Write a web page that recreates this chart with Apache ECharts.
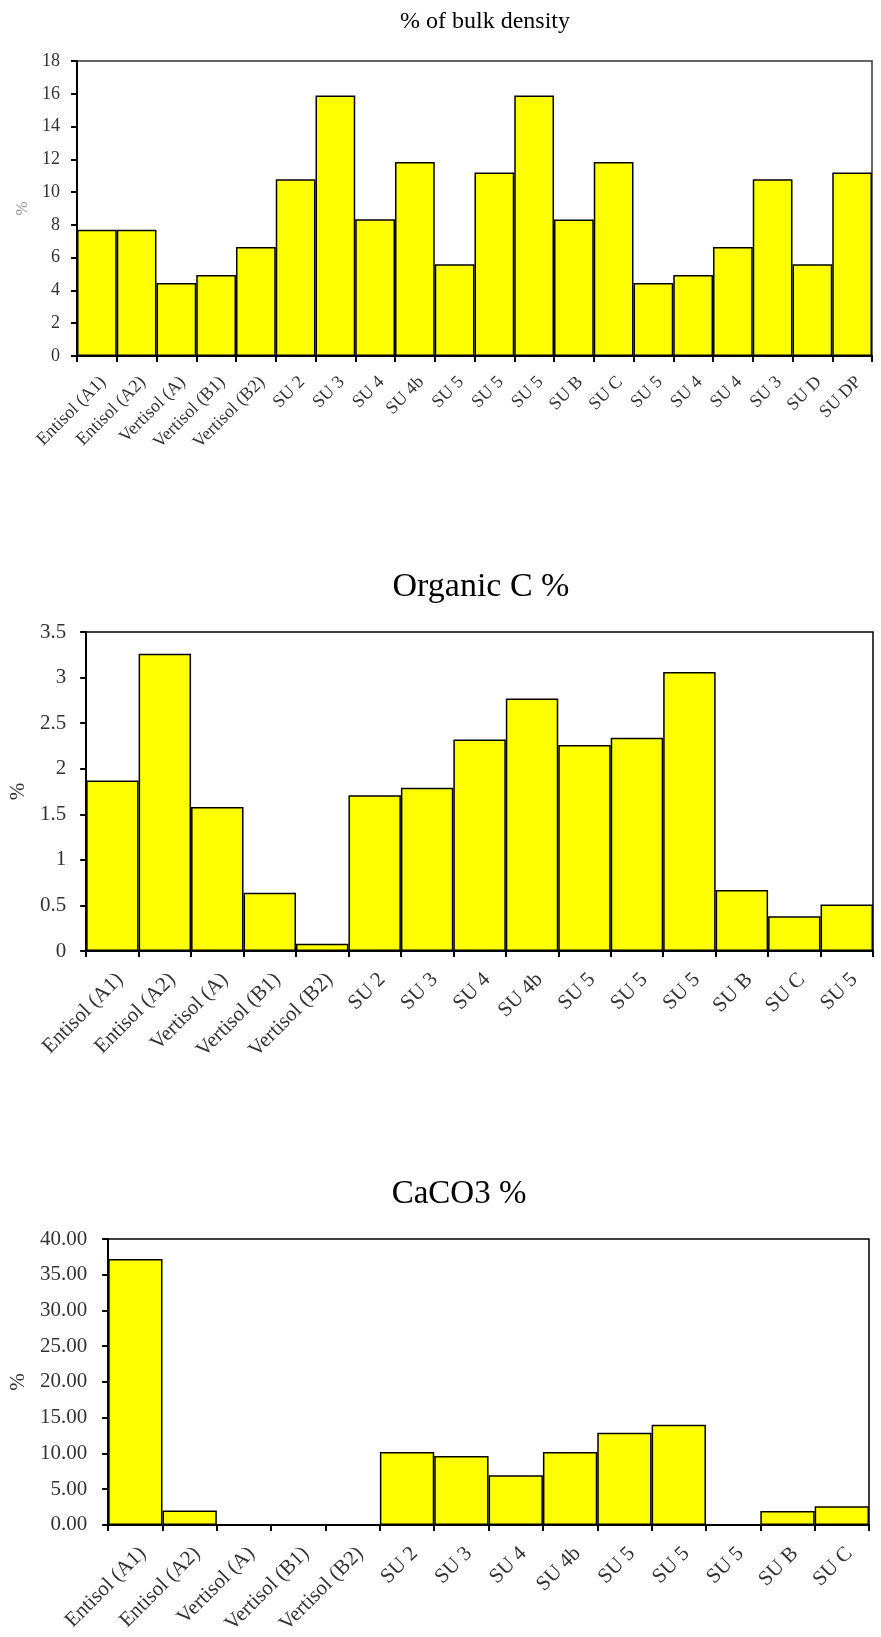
<!DOCTYPE html>
<html>
<head>
<meta charset="utf-8">
<script src="https://cdn.jsdelivr.net/npm/echarts@6/dist/echarts.min.js"></script>
<style>
html,body{margin:0;padding:0;background:#fff;}
#c{width:881px;height:1637px;}
</style>
</head>
<body>
<div id="c"></div>
<script>
// ---- data ----
const bulkTitle = '% of bulk density';
const bulkCategories = ['Entisol (A1)','Entisol (A2)','Vertisol (A)','Vertisol (B1)','Vertisol (B2)','SU 2','SU 3','SU 4','SU 4b','SU 5','SU 5','SU 5','SU B','SU C','SU 5','SU 4','SU 4','SU 3','SU D','SU DP'];
const bulkValues = [7.7,7.7,4.45,4.95,6.65,10.78,15.9,8.34,11.84,5.6,11.2,15.9,8.33,11.84,4.45,4.94,6.65,10.78,5.6,11.2];

const organicTitle = 'Organic C %';
const organicCategories = ['Entisol (A1)','Entisol (A2)','Vertisol (A)','Vertisol (B1)','Vertisol (B2)','SU 2','SU 3','SU 4','SU 4b','SU 5','SU 5','SU 5','SU B','SU C','SU 5'];
const organicValues = [1.87,3.26,1.58,0.64,0.08,1.71,1.79,2.32,2.77,2.26,2.34,3.06,0.67,0.38,0.51];

const caco3Title = 'CaCO3 %';
const caco3Categories = ['Entisol (A1)','Entisol (A2)','Vertisol (A)','Vertisol (B1)','Vertisol (B2)','SU 2','SU 3','SU 4','SU 4b','SU 5','SU 5','SU 5','SU B','SU C'];
const caco3Values = [37.2,2.0,0,0,0,10.2,9.64,6.94,10.2,12.9,14.0,0,1.96,2.6];

const yName = '%';

// ---- chart ----
const FONT = '"Liberation Serif", "Times New Roman", serif';
const chart = echarts.init(document.getElementById('c'), null, {renderer:'canvas'});

function xAxisCfg(idx, cats, fs, margin){
  return {
    type:'category', gridIndex: idx, data: cats,
    axisLine:{show:true, lineStyle:{color:'#000', width:2}},
    axisTick:{show:true, alignWithLabel:false, length:6, lineStyle:{color:'#000', width:2}},
    axisLabel:{interval:0, rotate:45, align:'right', verticalAlign:'top', margin: margin,
      fontFamily: FONT, fontSize: fs, color:'#333'},
    splitLine:{show:false}
  };
}
function yAxisCfg(idx, max, interval, fs, margin, nameGap, nameColor, nameSize, fmt){
  return {
    type:'value', gridIndex: idx, min:0, max:max, interval:interval,
    name: yName, nameLocation:'middle', nameGap: nameGap,
    nameTextStyle:{fontFamily: FONT, fontSize: nameSize, color: nameColor},
    axisLine:{show:true, lineStyle:{color:'#000', width:2}},
    axisTick:{show:true, length:6, lineStyle:{color:'#000', width:2}},
    axisLabel:{margin: margin, fontFamily: FONT, fontSize: fs, color:'#333', formatter: fmt},
    splitLine:{show:false}
  };
}
function barSeries(idx, vals){
  return {
    type:'bar', xAxisIndex: idx, yAxisIndex: idx, data: vals,
    barCategoryGap:'0%', barGap:'0%',
    itemStyle:{color:'#FFFF00', borderColor:'#000', borderWidth:1.5},
    silent:true, animation:false
  };
}

const option = {
  animation:false,
  backgroundColor:'#fff',
  graphic:[
    {type:'text', x:485, y:22, style:{text: bulkTitle, font:'24px ' + FONT, fill:'#000', textAlign:'center', textVerticalAlign:'middle', align:'center', verticalAlign:'middle'}},
    {type:'text', x:481, y:587, style:{text: organicTitle, font:'34px ' + FONT, fill:'#000', textAlign:'center', textVerticalAlign:'middle', align:'center', verticalAlign:'middle'}},
    {type:'text', x:459, y:1194, style:{text: caco3Title, font:'33px ' + FONT, fill:'#000', textAlign:'center', textVerticalAlign:'middle', align:'center', verticalAlign:'middle'}}
  ],
  grid:[
    {left:77, right:9, top:61, height:295, show:true, borderColor:'#333', borderWidth:1.5, backgroundColor:'transparent'},
    {left:83, right:8, top:632, height:319, show:true, borderColor:'#000', borderWidth:1.5, backgroundColor:'transparent'},
    {left:104, right:12, top:1239, height:287, show:true, borderColor:'#000', borderWidth:1.5, backgroundColor:'transparent'}
  ],
  xAxis:[
    xAxisCfg(0, bulkCategories, 18, 17),
    xAxisCfg(1, organicCategories, 21, 18),
    xAxisCfg(2, caco3Categories, 21, 18)
  ],
  yAxis:[
    yAxisCfg(0, 18, 2, 18, 17, 45, '#999', 17, null),
    yAxisCfg(1, 3.5, 0.5, 21, 20, 56, '#333', 21, null),
    yAxisCfg(2, 40, 5, 21, 21, 79, '#333', 21, function(v){return v.toFixed(2);})
  ],
  series:[
    barSeries(0, bulkValues),
    barSeries(1, organicValues),
    barSeries(2, caco3Values)
  ]
};
chart.setOption(option);
</script>
</body>
</html>
